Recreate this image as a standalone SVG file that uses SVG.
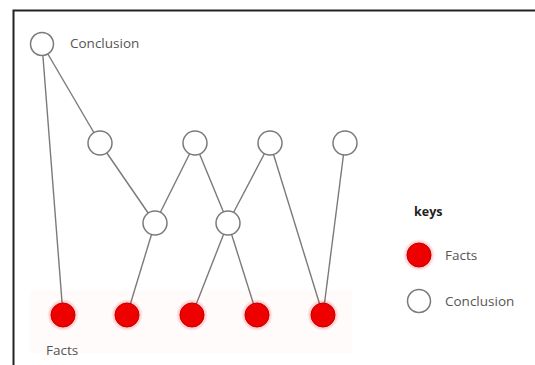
<svg xmlns="http://www.w3.org/2000/svg" width="535" height="365" viewBox="0 0 535 365">
  <defs>
    <radialGradient id="factGlow" cx="0.5" cy="0.5" r="0.5">
      <stop offset="0.7" stop-color="#ff0000" stop-opacity="0.3"/>
      <stop offset="1" stop-color="#ff0000" stop-opacity="0"/>
    </radialGradient>
  </defs>
  <style>
    .concl { fill: #ffffff; stroke: #7a7a7a; stroke-width: 1.5; }
    .fact { fill: #ee0000; stroke: #c00000; stroke-width: 1; }
    .glow { fill: url(#factGlow); }
    .edge { stroke: #7a7a7a; stroke-width: 1.4; fill: none; }
    .label { font-family: "Open Sans", "DejaVu Sans", sans-serif; font-size: 13.5px; fill: #555555; }
    .keys { font-family: "Open Sans", "DejaVu Sans", sans-serif; font-size: 12.5px; font-weight: bold; fill: #222222; }
  </style>

  <rect width="535" height="365" fill="#ffffff"/>
  <!-- frame -->
  <path d="M13.5 365 V10.5 H535" fill="none" stroke="#222222" stroke-width="2"/>
  <!-- faint band behind the facts row -->
  <rect x="30" y="290" width="322" height="63" fill="#fffbfb"/>

  <g id="connectors">
    <line class="edge" x1="42" y1="44" x2="63" y2="315"/>
    <line class="edge" x1="42" y1="44" x2="100" y2="143"/>
    <line class="edge" x1="100" y1="143" x2="155" y2="223"/>
    <line class="edge" x1="195" y1="143" x2="155" y2="223"/>
    <line class="edge" x1="195" y1="143" x2="228" y2="223"/>
    <line class="edge" x1="270" y1="143" x2="228" y2="223"/>
    <line class="edge" x1="270" y1="143" x2="323" y2="315"/>
    <line class="edge" x1="345" y1="143" x2="323" y2="315"/>
    <line class="edge" x1="155" y1="223" x2="127" y2="315"/>
    <line class="edge" x1="228" y1="223" x2="192" y2="315"/>
    <line class="edge" x1="228" y1="223" x2="257" y2="315"/>
  </g>

  <g id="conclusion-top">
    <circle class="concl" cx="42" cy="44" r="11.5"/>
    <text class="label" x="70" y="48">Conclusion</text>
  </g>
  <g id="conclusion-a"><circle class="concl" cx="100" cy="143" r="12"/></g>
  <g id="conclusion-b"><circle class="concl" cx="195" cy="143" r="12"/></g>
  <g id="conclusion-c"><circle class="concl" cx="270" cy="143" r="12"/></g>
  <g id="conclusion-d"><circle class="concl" cx="345" cy="143" r="12"/></g>
  <g id="conclusion-e"><circle class="concl" cx="155" cy="223" r="12"/></g>
  <g id="conclusion-f"><circle class="concl" cx="228" cy="223" r="12"/></g>

  <g id="fact-1"><circle class="glow" cx="63" cy="315" r="16"/><circle class="fact" cx="63" cy="315" r="12"/></g>
  <g id="fact-2"><circle class="glow" cx="127" cy="315" r="16"/><circle class="fact" cx="127" cy="315" r="12"/></g>
  <g id="fact-3"><circle class="glow" cx="192" cy="315" r="16"/><circle class="fact" cx="192" cy="315" r="12"/></g>
  <g id="fact-4"><circle class="glow" cx="257" cy="315" r="16"/><circle class="fact" cx="257" cy="315" r="12"/></g>
  <g id="fact-5"><circle class="glow" cx="323" cy="315" r="16"/><circle class="fact" cx="323" cy="315" r="12"/></g>
  <text class="label" x="46" y="355">Facts</text>

  <g id="legend">
    <text class="keys" x="414" y="216">keys</text>
    <circle class="glow" cx="419" cy="255" r="16"/>
    <circle class="fact" cx="419" cy="255" r="12"/>
    <text class="label" x="445" y="260">Facts</text>
    <circle class="concl" cx="419" cy="301" r="11.5"/>
    <text class="label" x="445" y="306">Conclusion</text>
  </g>
</svg>
